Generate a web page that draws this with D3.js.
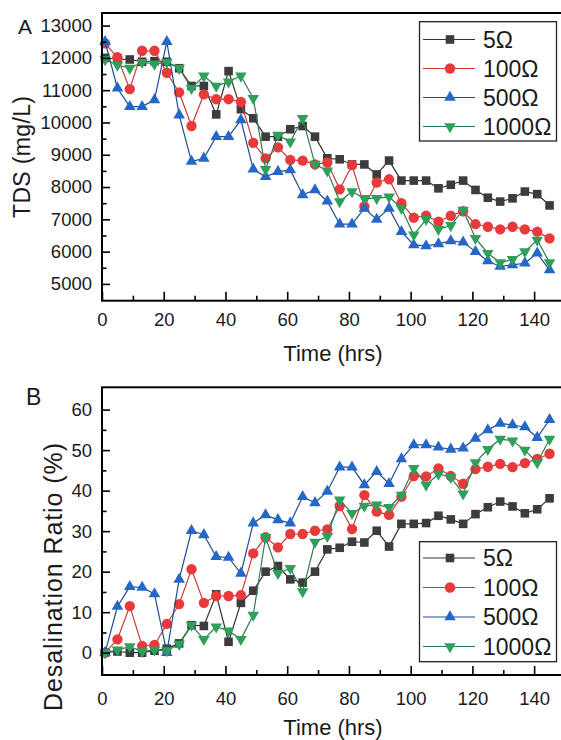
<!DOCTYPE html>
<html><head><meta charset="utf-8">
<script src="https://cdn.jsdelivr.net/npm/d3@7"></script>
<style>body{margin:0;background:#fff}svg{display:block;font-family:"Liberation Sans",Arial,sans-serif}</style>
</head><body><svg id="c" width="561" height="740"></svg>
<script>
// ---------- data ----------
const time = [1,5,9,13,17,21,25,29,33,37,41,45,49,53,57,61,65,69,73,77,81,85,89,93,97,101,105,109,113,117,121,125,129,133,137,141,145];
const seriesNames = ["5Ω","100Ω","500Ω","1000Ω"];

const tds5    = [12000,11960,11950,11880,11900,11880,11680,11130,11130,10250,11590,10410,10130,9560,9560,9790,9890,9560,8890,8860,8700,8700,8390,8820,8200,8200,8200,7960,8070,8200,7910,7670,7550,7650,7860,7780,7430];
const tds100  = [12450,12020,11030,12220,12220,11540,10930,9890,10870,10720,10720,10640,9370,8890,9230,8840,8820,8700,8760,7930,8680,7400,8140,8240,7500,7050,7110,6930,7110,7250,6850,6770,6690,6770,6690,6620,6410];
const tds500  = [12500,11060,10490,10490,10700,12500,10230,8790,8890,9560,9560,10080,8550,8320,8480,8530,7760,7910,7560,6850,6850,7340,7000,7340,6620,6210,6180,6240,6330,6290,6000,5710,5540,5590,5640,5950,5430];
const tds1000 = [11950,11780,11680,11860,11810,11860,11680,11060,11440,11130,11260,11440,10750,8550,9610,9400,10130,8710,8500,7550,7860,7650,7650,7700,7340,6520,7000,6690,6810,7290,6410,5950,5660,5760,6000,6360,5660];

const dr5    = [0,0.3,0,0,0.5,1.0,2.3,6.8,6.6,14.4,2.7,12.3,15.3,20.0,21.4,18.1,17.3,20.0,25.5,25.9,27.4,27.2,30.1,26.2,31.8,31.8,32.0,33.8,32.9,31.8,34.2,35.9,37.3,36.1,34.4,35.4,38.1];
const dr100  = [0,3.3,11.5,1.7,1.9,7.1,12.0,20.6,12.3,14.0,14.0,14.2,24.5,28.5,26.0,29.3,29.3,30.1,30.4,36.2,30.5,38.9,34.8,34.0,38.5,43.6,43.5,45.5,43.6,41.7,45.3,45.9,46.6,45.8,46.8,47.8,49.1];
const dr500  = [0,11.4,16.3,16.1,14.5,0,18.1,30.1,29.1,23.7,23.5,19.6,32.0,34.0,32.8,32.0,38.5,37.0,39.8,45.8,45.8,41.4,44.7,41.7,47.8,51.3,51.3,50.7,50.2,50.5,52.9,55.0,56.6,56.2,55.7,53.1,57.5];
const dr1000 = [0,0.7,1.5,0.3,0.7,0.5,2.1,6.8,3.3,6.4,5.4,3.3,9.3,28.5,19.6,20.8,15.1,27.3,28.7,37.7,34.4,36.2,36.5,35.9,38.9,45.5,41.4,44.1,43.3,39.2,46.9,50.2,52.7,52.3,50.0,46.9,52.7];

const xTicks = [0,20,40,60,80,100,120,140];
const xMinor = [10,30,50,70,90,110,130];
const tdsTicks = [5000,6000,7000,8000,9000,10000,11000,12000,13000];
const tdsMinor = [5500,6500,7500,8500,9500,10500,11500,12500];
const drTicks = [0,10,20,30,40,50,60];
const drMinor = [5,15,25,35,45,55];

// ---------- styles ----------
const styles = [
  {line:"#333333", fill:"#3c3c3c", type:d3.symbolSquare, size:74, rot:0},
  {line:"#c83a3a", fill:"#e8393b", type:d3.symbolCircle, size:84, rot:0},
  {line:"#1f4d8e", fill:"#2567c6", type:d3.symbolTriangle, size:58, rot:0},
  {line:"#2d7d50", fill:"#2fa05b", type:d3.symbolTriangle, size:58, rot:180}
];
const textColor = "#1a1a1a";

const svg = d3.select("#c");
const x = d3.scaleLinear().domain([0,150]).range([102,565]);

function panel(opts){
  const g = svg.append("g");
  const y = opts.y;
  const [yb, yt] = y.range();
  // series
  opts.series.forEach((vals,si)=>{
    const st = styles[si];
    const pts = time.map((t,i)=>[t, vals[i]]);
    g.append("path").datum(pts)
      .attr("fill","none").attr("stroke",st.line).attr("stroke-width",1.2)
      .attr("d", d3.line().x(d=>x(d[0])).y(d=>y(d[1])));
    g.selectAll(null).data(pts).join("path")
      .attr("d", d3.symbol().type(st.type).size(st.size)())
      .attr("fill", st.fill)
      .attr("transform", d=>`translate(${x(d[0])},${y(d[1])}) rotate(${st.rot})`);
  });
  // axes
  const ax = g.append("g").attr("transform",`translate(0,${yb})`)
    .call(d3.axisBottom(x).tickValues(xTicks).tickSize(-9).tickPadding(opts.xPad).tickFormat(d3.format("d")));
  const axm = g.append("g").attr("transform",`translate(0,${yb})`)
    .call(d3.axisBottom(x).tickValues(xMinor).tickSize(-5).tickFormat(""));
  const ay = g.append("g").attr("transform",`translate(102,0)`)
    .call(d3.axisLeft(y).tickValues(opts.ticks).tickSize(-8).tickPadding(10).tickFormat(d3.format("d")));
  const aym = g.append("g").attr("transform",`translate(102,0)`)
    .call(d3.axisLeft(y).tickValues(opts.minor).tickSize(-4.5).tickFormat(""));
  [ax,axm,ay,aym].forEach(a=>{
    a.select(".domain").remove();
    a.selectAll("line").attr("stroke","#000").attr("stroke-width",1.6);
    a.selectAll("text").attr("font-size",18.5).attr("fill",textColor).attr("font-family",'"Liberation Sans",Arial,sans-serif');
  });
  // frame
  g.append("rect").attr("x",102).attr("y",yt).attr("width",470).attr("height",yb-yt)
    .attr("fill","none").attr("stroke","#000").attr("stroke-width",2);
  // titles
  g.append("text").attr("x",333).attr("y",opts.xTitleY).attr("text-anchor","middle")
    .attr("font-size",22).attr("fill",textColor).text("Time (hrs)");
  g.append("text").attr("transform",`translate(${opts.yTitleX},${opts.yTitleC}) rotate(-90)`)
    .attr("text-anchor","middle").attr("font-size",opts.yTitleSize).attr("fill",textColor)
    .attr("textLength",opts.yTitleLen).attr("lengthAdjust","spacing").text(opts.yTitle);
  g.append("text").attr("x",opts.letterX).attr("y",opts.letterY).attr("font-size",opts.letterSize)
    .attr("fill",textColor).text(opts.letter);
  // legend
  const L = opts.legend;
  g.append("rect").attr("x",419.5).attr("y",L.top).attr("width",137).attr("height",L.h)
    .attr("fill","#fff").attr("stroke","#222").attr("stroke-width",1.3);
  seriesNames.forEach((nm,i)=>{
    const st = styles[i];
    const cy = L.first + i*L.step;
    g.append("line").attr("x1",423).attr("x2",475).attr("y1",cy).attr("y2",cy)
      .attr("stroke",st.line).attr("stroke-width",1.1);
    g.append("path").attr("d", d3.symbol().type(st.type).size(st.size)())
      .attr("fill",st.fill).attr("transform",`translate(450,${cy}) rotate(${st.rot})`);
    g.append("text").attr("x",483).attr("y",cy).attr("dy","0.36em")
      .attr("font-size",23).attr("fill",textColor).text(nm);
  });
}

panel({
  y: d3.scaleLinear().domain([4480,13390]).range([300.7,13]),
  series:[tds5,tds100,tds500,tds1000],
  ticks:tdsTicks, minor:tdsMinor, xPad:12,
  xTitleY:361, yTitle:"TDS (mg/L)", yTitleX:29.5, yTitleC:157, yTitleSize:23, yTitleLen:122,
  letter:"A", letterX:18, letterY:33.5, letterSize:21,
  legend:{top:21.7, h:119.3, first:39.5, step:29}
});
panel({
  y: d3.scaleLinear().domain([-5.5,65.5]).range([675,387.3]),
  series:[dr5,dr100,dr500,dr1000],
  ticks:drTicks, minor:drMinor, xPad:17,
  xTitleY:735, yTitle:"Desalination Ratio (%)", yTitleX:62, yTitleC:577, yTitleSize:25, yTitleLen:268,
  letter:"B", letterX:26, letterY:405, letterSize:23,
  legend:{top:541.7, h:120, first:558, step:29.5}
});
</script></body></html>
